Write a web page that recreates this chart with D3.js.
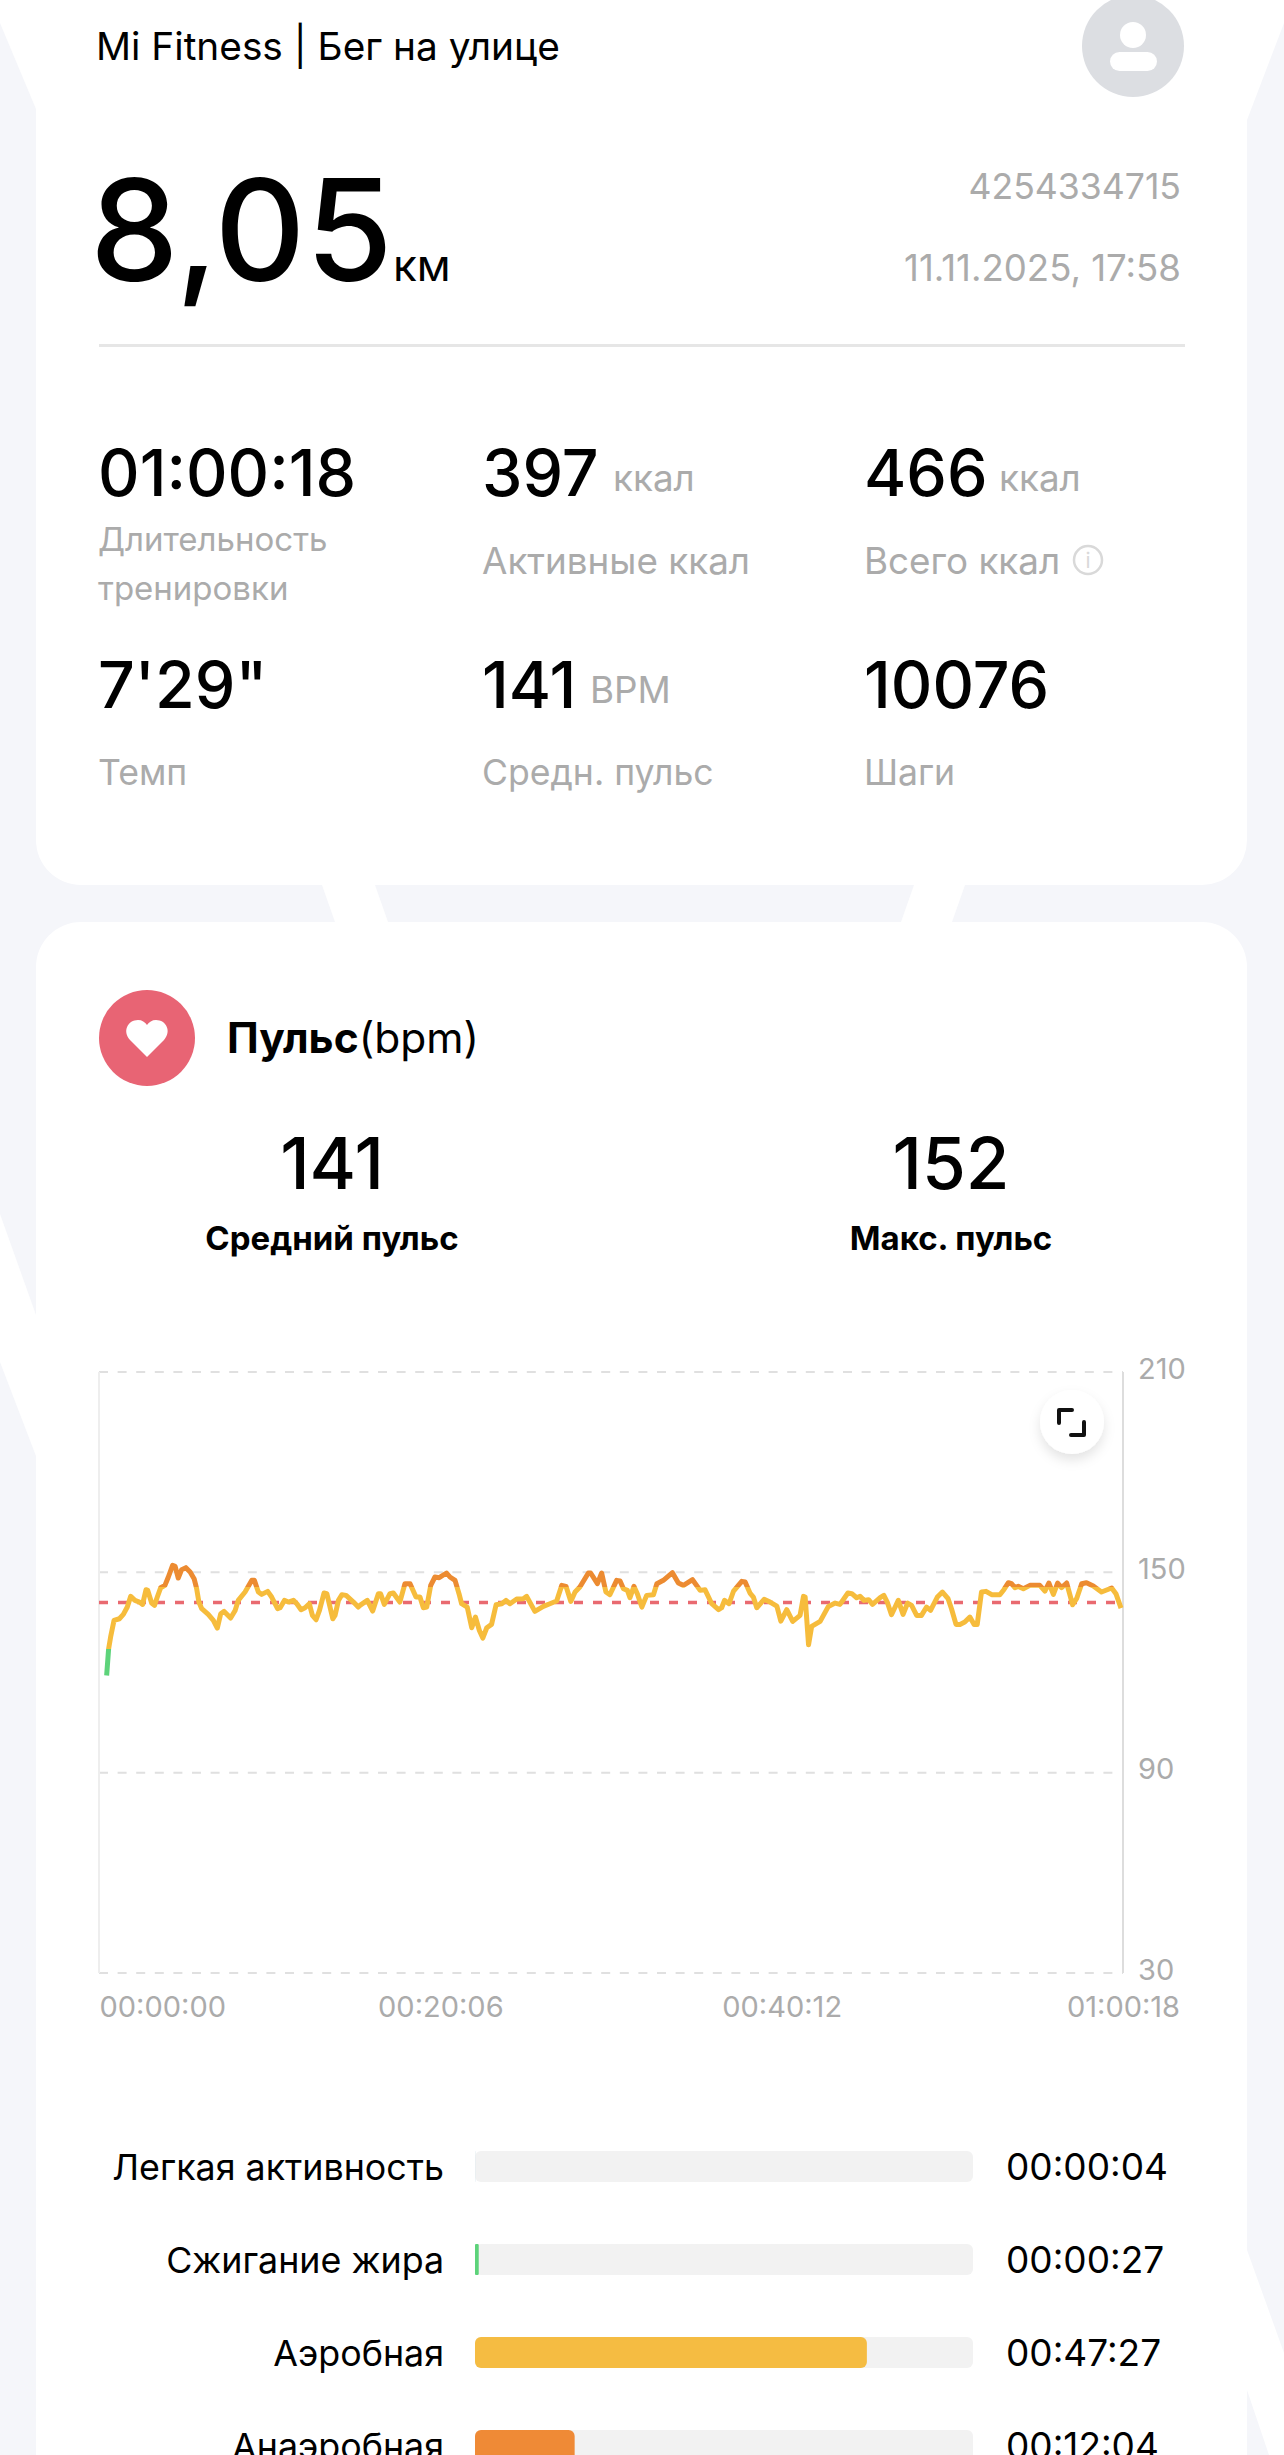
<!DOCTYPE html>
<meta charset="utf-8">
<title>Mi Fitness</title>
<style>

body {
  margin: 0;
  background-color: #f5f6fa;
  overflow: hidden;
}

svg {
  display: block;
}

text {
  font-family: Inter, "Liberation Sans", sans-serif;
}

.grey {
  fill: #ababab;
}

.value {
  fill: #000;
  font-weight: 500;
}

</style>
<body>
<script src="https://cdn.jsdelivr.net/npm/d3@7"></script>
<script>

var width = 1284,
    height = 2455;

// heart rate trace
var hrSeconds = [27, 34, 41, 53, 72, 86, 100, 112, 127, 143, 154, 166, 172, 186, 196, 206, 218, 233, 245, 260, 269, 280, 292, 307, 322, 336, 345, 353, 363, 386, 404, 418, 430, 442, 465, 481, 492, 516, 540, 549, 563, 575, 596, 610, 631, 640, 655, 669, 687, 699, 714, 728, 743, 754, 767, 779, 795, 805, 826, 834, 846, 858, 873, 899, 916,
    922, 948, 967, 987, 995, 1008, 1028, 1040, 1063, 1081, 1099, 1120, 1134, 1146, 1158, 1172, 1187, 1202, 1228, 1240, 1258, 1272, 1281, 1301, 1317, 1330, 1344, 1356, 1370, 1387, 1403, 1423, 1438, 1452, 1476, 1499, 1511, 1540, 1570, 1593, 1617, 1635, 1650, 1667, 1682, 1699, 1729, 1737, 1761, 1776, 1791, 1805, 1829, 1841,
    1853, 1867, 1876, 1890, 1902, 1918, 1935, 1959, 1971, 1994, 2026, 2047, 2065, 2097, 2124, 2141, 2165, 2189, 2200, 2210, 2226, 2242, 2271, 2283, 2300, 2312, 2324, 2350, 2371, 2395, 2409, 2430, 2451, 2477, 2489, 2495, 2507, 2518, 2548, 2577, 2601, 2618, 2646, 2660, 2677, 2689, 2703, 2719, 2733, 2760,
    2773, 2785, 2800, 2824, 2841, 2857, 2871, 2889, 2906, 2924, 2938, 2962, 2980, 3000, 3012, 3028, 3042, 3059, 3077, 3092, 3103, 3118, 3134, 3154, 3183, 3197, 3213, 3224, 3236, 3248, 3266, 3289, 3324, 3342, 3356, 3372, 3387, 3401, 3419, 3440, 3454, 3472, 3489, 3513, 3542, 3578, 3593, 3611];

var hrValues = [119.1, 127.1, 130.6, 135.6, 136.1, 137.4, 139.6, 142.8, 141.6, 141.1, 140.4, 144.8, 144.6, 140.8, 140.1, 142.6, 145.4, 146.1, 148.6, 152.1, 151.8, 148.3, 150.8, 151.4, 150.1, 148.1, 145.1, 141.1, 139.1, 137.4, 135.6, 133.3, 137.6, 138.3, 136.3, 138.6, 141.6, 144.1, 147.6, 147.6, 144.1, 143.4, 144.3, 142.6, 139.1, 139.4, 141.6, 141.1, 141.6, 140.6, 138.8, 139.4, 140.6, 137.1, 135.8, 138.6, 143.8, 143.6, 136.1, 137.1, 141.6, 143.3, 143.1, 141.1, 139.6,
    140.1, 141.6, 138.4, 143.6, 143.6, 140.4, 143.6, 143.8, 141.1, 146.6, 146.6, 142.6, 142.6, 139.4, 139.6, 146.1, 148.6, 148.4, 149.8, 148.6, 147.6, 143.6, 140.6, 139.6, 133.4, 136.6, 132.6, 130.3, 133.4, 134.4, 140.3, 140.6, 141.6, 140.6, 142, 142.1, 142.8, 138.3, 139.8, 140.6, 141.4, 146.1, 145.8, 141.3, 144.1, 145.6, 149.8, 149.8, 146.6, 149.8, 144.1, 143.3, 147.6, 147.4,
    145.1, 144.6, 142.4, 145.8, 143.6, 139.6, 143.1, 143.3, 146.6, 147.6, 149.9, 146.8, 146.1, 147.8, 144.6, 144.8, 140.6, 138.8, 139.4, 141.6, 140.6, 144.4, 147.3, 147.1, 143.8, 142.6, 139.4, 141.9, 141.1, 139.9, 135.4, 138.8, 135.3, 137.1, 142.8, 142.6, 128.3, 133.8, 135.3, 139.8, 140.8, 140.4, 143.8, 143.6, 142.4, 142.8, 141.6, 141.8, 140.4, 142.4,
    143.1, 141.1, 137.3, 141.6, 137.4, 140.8, 140.1, 137.1, 137.1, 139.6, 138.6, 142.6, 144.1, 142.1, 139.1, 134.4, 134.4, 135.1, 136.6, 134.4, 134.4, 144.1, 144.3, 143.3, 143.3, 144.8, 146.9, 146.6, 145.4, 145.8, 145.1, 146.1, 146.1, 144.4, 146.8, 143.4, 146.8, 145.4, 146.8, 140.3, 142.1, 146.6, 146.9, 145.9, 144.1, 145.3, 143.6, 139.3];

var avgPulse = 141,
    maxPulse = 152,
    totalSeconds = 3618;

var yTicks = [210, 150, 90, 30];
var xTicks = [0, 1206, 2412, 3618];
var xTickLabels = ["00:00:00", "00:20:06", "00:40:12", "01:00:18"];

// where the trace changes colour
var zoneLimits = [127, 145.5];
var zoneLineColors = ["#5dd37a", "#f6bc3c", "#ec8b31"];

var zoneNames = ["Легкая активность", "Сжигание жира", "Аэробная", "Анаэробная"];
var zoneSeconds = [4, 27, 2847, 724];
var zoneLabels = ["00:00:04", "00:00:27", "00:47:27", "00:12:04"];
var zoneColors = ["#e4ecf0", "#5dd37a", "#f5bc42", "#ef8a36"];

var statColumns = [99, 483, 865];
var statValues = ["01:00:18", "397", "466", "7'29\"", "141", "10076"];
var statUnits = ["", "ккал", "ккал", "", "BPM", ""];
var statLabels = ["Длительность", "Активные ккал", "Всего ккал", "Темп", "Средн. пульс", "Шаги"];

var svg = d3.select("body").append("svg")
    .attr("width", width)
    .attr("height", height);

// background: pale wedges showing behind the cards
var wedges = [
  [[0, 0], [0, 23], [36, 109], [36, 0]],
  [[1284, 0], [1284, 23], [1247, 120], [1247, 0]],
  [[322, 885], [375, 885], [388, 922], [335, 922]],
  [[914, 885], [965, 885], [952, 922], [901, 922]],
  [[0, 1214], [36, 1315], [36, 1456], [0, 1362]],
  [[1247, 2250], [1284, 2353], [1284, 2455], [1269, 2455], [1247, 2390]]
];

svg.selectAll(".wedge")
    .data(wedges)
  .enter().append("polygon")
    .attr("class", "wedge")
    .attr("points", function(d) { return d.join(" "); })
    .style("fill", "#fff");

svg.append("rect")
    .attr("x", 36).attr("y", -60)
    .attr("width", 1211).attr("height", 945)
    .attr("rx", 45)
    .style("fill", "#fff");

svg.append("rect")
    .attr("x", 36).attr("y", 922)
    .attr("width", 1211).attr("height", 1700)
    .attr("rx", 45)
    .style("fill", "#fff");

// header
svg.append("text")
    .attr("x", 96).attr("y", 60)
    .style("font-size", "38.8px")
    .text("Mi Fitness | Бег на улице");

svg.append("circle")
    .attr("cx", 1133).attr("cy", 46).attr("r", 51)
    .style("fill", "#dcdee2");

svg.append("circle")
    .attr("cx", 1133).attr("cy", 35).attr("r", 13)
    .style("fill", "#fff");

svg.append("rect")
    .attr("x", 1110).attr("y", 52)
    .attr("width", 47).attr("height", 19)
    .attr("rx", 9.5)
    .style("fill", "#fff");

svg.append("text")
    .attr("class", "value")
    .attr("x", 90).attr("y", 281)
    .style("font-size", "141px")
    .text("8,05");

svg.append("text")
    .attr("x", 393).attr("y", 281)
    .style("font-size", "44px")
    .text("км");

svg.append("text")
    .attr("class", "grey")
    .attr("x", 1181).attr("y", 199)
    .attr("text-anchor", "end")
    .style("font-size", "35.6px")
    .text("4254334715");

svg.append("text")
    .attr("class", "grey")
    .attr("x", 1181).attr("y", 281)
    .attr("text-anchor", "end")
    .style("font-size", "36.6px")
    .text("11.11.2025, 17:58");

svg.append("rect")
    .attr("x", 99).attr("y", 344)
    .attr("width", 1086).attr("height", 3)
    .style("fill", "#e6e6e6");

// workout stats
var stats = svg.selectAll(".stat")
    .data(statValues)
  .enter().append("g")
    .attr("class", "stat")
    .attr("transform", function(d, i) {
      return "translate(" + (statColumns[i % 3] - 1) + "," + (i < 3 ? 496 : 708) + ")";
    });

stats.append("text")
    .attr("class", "value")
    .style("font-size", "64.5px")
    .text(function(d) { return d; });

stats.append("text")
    .attr("class", "grey")
    .attr("x", function(d, i) { return i == 4 ? 108 : i == 1 ? 131 : 135; })
    .attr("y", -5)
    .style("font-size", "36.8px")
    .text(function(d, i) { return statUnits[i]; });

stats.append("text")
    .attr("class", "grey")
    .attr("y", function(d, i) { return i == 0 ? 55 : i < 3 ? 78 : 77; })
    .style("font-size", function(d, i) { return i == 0 ? "33px" : i < 3 ? "36.8px" : "35.6px"; })
    .text(function(d, i) { return statLabels[i]; });

svg.append("text")
    .attr("class", "grey")
    .attr("x", 98).attr("y", 600)
    .style("font-size", "33px")
    .text("тренировки");

// info mark next to the total calories
svg.append("circle")
    .attr("cx", 1088).attr("cy", 560).attr("r", 14)
    .style("fill", "none")
    .style("stroke", "#d9d9d9")
    .style("stroke-width", 2.5);

svg.append("text")
    .attr("x", 1088).attr("y", 568)
    .attr("text-anchor", "middle")
    .style("font-size", "21px")
    .style("fill", "#d9d9d9")
    .text("i");

// pulse card header
svg.append("circle")
    .attr("cx", 147).attr("cy", 1038).attr("r", 48)
    .style("fill", "#e86474");

svg.append("path")
    .attr("transform", "translate(147,1038)")
    .attr("d", "M0,19 L-17,2 C-25,-7 -19,-18 -9,-18 C-5,-18 -2,-16 0,-13 C2,-16 5,-18 9,-18 C19,-18 25,-7 17,2 Z")
    .style("fill", "#fff");

var title = svg.append("text")
    .attr("x", 227).attr("y", 1053)
    .style("font-size", "42.5px");

title.append("tspan")
    .style("font-weight", "700")
    .text("Пульс");

title.append("tspan")
    .text("(bpm)");

var summary = svg.selectAll(".summary")
    .data([[avgPulse, "Средний пульс"], [maxPulse, "Макс. пульс"]])
  .enter().append("g")
    .attr("class", "summary")
    .attr("text-anchor", "middle")
    .attr("transform", function(d, i) { return "translate(" + (i ? 951 : 332) + ",0)"; });

summary.append("text")
    .attr("class", "value")
    .attr("y", 1189)
    .style("font-size", "71px")
    .text(function(d) { return d[0]; });

summary.append("text")
    .attr("y", 1250)
    .style("font-size", "33px")
    .style("font-weight", "700")
    .text(function(d) { return d[1]; });

// chart
var x = d3.scaleLinear().domain([0, totalSeconds]).range([99, 1123]),
    y = d3.scaleLinear().domain([30, 210]).range([1973, 1372]);

var yAxis = svg.append("g")
    .attr("transform", "translate(1123,0)")
    .call(d3.axisRight(y).tickValues(yTicks).tickSize(0).tickPadding(15));

yAxis.select(".domain").remove();

yAxis.selectAll("text")
    .attr("class", "grey")
    .attr("dy", 6)
    .style("font-size", "29px");

var xAxis = svg.append("g")
    .attr("transform", "translate(0,1973)")
    .call(d3.axisBottom(x)
      .tickValues(xTicks)
      .tickSize(0)
      .tickPadding(0)
      .tickFormat(function(d, i) { return xTickLabels[i]; }));

xAxis.select(".domain").remove();

xAxis.selectAll("text")
    .attr("class", "grey")
    .attr("dy", null)
    .attr("y", 44)
    .style("font-size", "29px");

xAxis.select(".tick text").attr("text-anchor", "start");

svg.selectAll(".grid")
    .data(yTicks)
  .enter().append("line")
    .attr("class", "grid")
    .attr("x1", x(0))
    .attr("x2", x(totalSeconds))
    .attr("y1", y)
    .attr("y2", y)
    .style("stroke", "#e0e0e0")
    .style("stroke-width", 2)
    .style("stroke-dasharray", "9,9.6");

svg.append("line")
    .attr("x1", x(0)).attr("x2", x(0))
    .attr("y1", y(210)).attr("y2", y(30))
    .style("stroke", "#eeeeee")
    .style("stroke-width", 2);

svg.append("line")
    .attr("x1", x(totalSeconds)).attr("x2", x(totalSeconds))
    .attr("y1", y(210)).attr("y2", y(30))
    .style("stroke", "#dddddd")
    .style("stroke-width", 2);

svg.append("line")
    .attr("x1", x(0))
    .attr("x2", x(totalSeconds))
    .attr("y1", y(avgPulse))
    .attr("y2", y(avgPulse))
    .style("stroke", "#e96a70")
    .style("stroke-width", 3.5)
    .style("stroke-dasharray", "9,10");

// the trace takes its colour from the zone it is in
var offset = d3.scaleLinear().domain(y.domain()).range([1, 0]);

var gradientStops = [
  [1, zoneLineColors[0]],
  [offset(zoneLimits[0]), zoneLineColors[0]],
  [offset(zoneLimits[0]), zoneLineColors[1]],
  [offset(zoneLimits[1]), zoneLineColors[1]],
  [offset(zoneLimits[1]), zoneLineColors[2]],
  [0, zoneLineColors[2]]
].reverse();

svg.append("linearGradient")
    .attr("id", "zones")
    .attr("gradientUnits", "userSpaceOnUse")
    .attr("x1", 0).attr("x2", 0)
    .attr("y1", y(210)).attr("y2", y(30))
  .selectAll("stop")
    .data(gradientStops)
  .enter().append("stop")
    .attr("offset", function(d) { return d[0]; })
    .attr("stop-color", function(d) { return d[1]; });

var line = d3.line()
    .x(function(d, i) { return x(d); })
    .y(function(d, i) { return y(hrValues[i]); });

svg.append("path")
    .attr("d", line(hrSeconds))
    .style("fill", "none")
    .style("stroke", "url(#zones)")
    .style("stroke-width", 5)
    .style("stroke-linejoin", "round");

// expand button
var shadow = svg.append("filter")
    .attr("id", "shadow")
    .attr("x", "-50%").attr("y", "-50%")
    .attr("width", "200%").attr("height", "200%");

shadow.append("feDropShadow")
    .attr("dx", 0).attr("dy", 6)
    .attr("stdDeviation", 6)
    .attr("flood-color", "#000")
    .attr("flood-opacity", 0.11);

svg.append("circle")
    .attr("cx", 1072).attr("cy", 1422).attr("r", 32)
    .attr("filter", "url(#shadow)")
    .style("fill", "#fff");

svg.append("path")
    .attr("d", "M1059,1423 V1410 H1072 M1084,1422 V1435 H1071")
    .style("fill", "none")
    .style("stroke", "#111")
    .style("stroke-width", 4)
    .style("stroke-linecap", "round")
    .style("stroke-linejoin", "round");

// time in zones
var barX = d3.scaleLinear().domain([0, totalSeconds]).range([0, 498]),
    barY = d3.scaleBand().domain(zoneNames).range([2151, 2461]).paddingInner(2 / 3);

var rows = svg.selectAll(".zone")
    .data(zoneNames)
  .enter().append("g")
    .attr("class", "zone")
    .attr("transform", function(d) { return "translate(0," + barY(d) + ")"; });

rows.append("rect")
    .attr("x", 475)
    .attr("width", barX.range()[1])
    .attr("height", barY.bandwidth())
    .attr("rx", 6)
    .style("fill", "#f2f2f2");

rows.append("rect")
    .attr("x", 475)
    .attr("width", function(d, i) { return barX(zoneSeconds[i]); })
    .attr("height", barY.bandwidth())
    .attr("rx", function(d, i) { return i < 2 ? 1 : 6; })
    .style("fill", function(d, i) { return zoneColors[i]; });

rows.append("text")
    .attr("x", 444).attr("y", 29)
    .attr("text-anchor", "end")
    .style("font-size", "35.8px")
    .text(function(d) { return d; });

rows.append("text")
    .attr("x", 1006).attr("y", 29)
    .style("font-size", "37px")
    .text(function(d, i) { return zoneLabels[i]; });

</script>
